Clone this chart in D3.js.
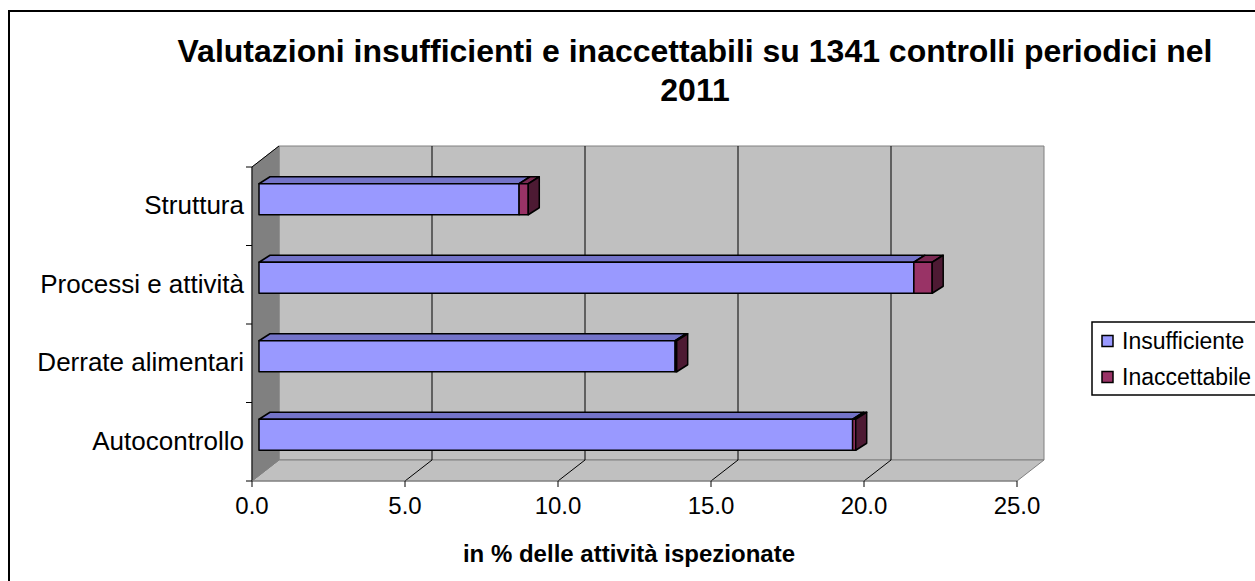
<!DOCTYPE html>
<html>
<head>
<meta charset="utf-8">
<script src="https://cdn.jsdelivr.net/npm/d3@7"></script>
<style>
  html, body { margin: 0; padding: 0; background: #fff; }
  svg { display: block; }
  text { font-family: "Liberation Sans", Arial, sans-serif; }
</style>
</head>
<body>
<svg id="chart" width="1255" height="581"></svg>
<script>
// Categories, top to bottom as drawn
const categories = ["Struttura", "Processi e attività", "Derrate alimentari", "Autocontrollo"];
// Share of inspected activities (%)
const insufficiente = [8.5, 21.4, 13.6, 19.4];
const inaccettabile = [0.3, 0.6, 0.05, 0.1];
const seriesNames = ["Insufficiente", "Inaccettabile"];
const xTicks = [0, 5, 10, 15, 20, 25];

const W = 1255, H = 581;
const svg = d3.select("#chart");

// Colours of each series: front, top and side faces
const faces = [
  { front: "#9999ff", top: "#7373c8", side: "#4d4d80" },
  { front: "#993366", top: "#7a2952", side: "#4d1a33" }
];

// Front plane of the 3D box, and the depth offset of the back wall
const x = d3.scaleLinear().domain([0, 25]).range([252, 1017]);
const y = d3.scaleBand().domain(categories).range([167, 481]).padding(0);
const depth = { dx: 27, dy: -21 };
// Bars: front face offset from the front plane, and bar thickness in depth
const barFront = { dx: 7, dy: -7 };
const barDepth = { dx: 11, dy: -7 };
const barH = 31;

// Outer chart frame
svg.append("rect").attr("x", 0).attr("y", 0).attr("width", W).attr("height", H).attr("fill", "#fff");
svg.append("rect").attr("x", 9).attr("y", 11).attr("width", W + 20).attr("height", H + 20)
  .attr("fill", "none").attr("stroke", "#000").attr("stroke-width", 2);

// Title
const title = svg.append("text").attr("text-anchor", "middle")
  .attr("font-size", 32).attr("font-weight", "bold").attr("fill", "#000");
title.append("tspan").attr("x", 695).attr("y", 62)
  .text("Valutazioni insufficienti e inaccettabili su 1341 controlli periodici nel");
title.append("tspan").attr("x", 695).attr("y", 101).text("2011");

const x0 = x.range()[0], x1 = x.range()[1];
const yTop = y.range()[0], yBot = y.range()[1];
const pts = a => a.map(p => p.join(",")).join(" ");

// Walls and floor
const plot = svg.append("g");
plot.append("polygon")
  .attr("points", pts([[x0 + depth.dx, yTop + depth.dy], [x1 + depth.dx, yTop + depth.dy],
                       [x1 + depth.dx, yBot + depth.dy], [x0 + depth.dx, yBot + depth.dy]]))
  .attr("fill", "#c0c0c0").attr("stroke", "#808080").attr("stroke-width", 1);
plot.append("polygon")
  .attr("points", pts([[x0, yBot], [x0 + depth.dx, yBot + depth.dy],
                       [x1 + depth.dx, yBot + depth.dy], [x1, yBot]]))
  .attr("fill", "#c0c0c0").attr("stroke", "#808080").attr("stroke-width", 1);
plot.append("polygon")
  .attr("points", pts([[x0, yTop], [x0 + depth.dx, yTop + depth.dy],
                       [x0 + depth.dx, yBot + depth.dy], [x0, yBot]]))
  .attr("fill", "#808080").attr("stroke", "#808080").attr("stroke-width", 1);
plot.append("line")
  .attr("x1", x0).attr("y1", yTop).attr("x2", x0 + depth.dx).attr("y2", yTop + depth.dy)
  .attr("stroke", "#000").attr("stroke-width", 1);

// Gridlines on the back wall and their traces across the floor
const inner = xTicks.filter(t => t > 0 && t < 25);
plot.selectAll(".grid").data(inner).join("line")
  .attr("x1", d => x(d) + depth.dx).attr("x2", d => x(d) + depth.dx)
  .attr("y1", yTop + depth.dy).attr("y2", yBot + depth.dy)
  .attr("stroke", "#000").attr("stroke-width", 1);
plot.selectAll(".floorGrid").data(inner).join("line")
  .attr("x1", d => x(d) + depth.dx).attr("y1", yBot + depth.dy)
  .attr("x2", d => x(d)).attr("y2", yBot)
  .attr("stroke", "#000").attr("stroke-width", 1);

// Axes on the front plane
const axes = svg.append("g").attr("stroke", "#000").attr("stroke-width", 1);
axes.append("line").attr("x1", x0).attr("x2", x0).attr("y1", yTop).attr("y2", yBot);
axes.append("line").attr("x1", x0).attr("x2", x1).attr("y1", yBot).attr("y2", yBot).attr("stroke", "#808080");
axes.selectAll(".xt").data(xTicks).join("line")
  .attr("x1", d => x(d)).attr("x2", d => x(d)).attr("y1", yBot).attr("y2", yBot + 6).attr("stroke", "#000");
const bounds = categories.map(c => y(c)).concat([yBot]);
axes.selectAll(".yt").data(bounds).join("line")
  .attr("x1", x0 - 6).attr("x2", x0).attr("y1", d => d).attr("y2", d => d);

svg.selectAll(".xl").data(xTicks).join("text")
  .attr("x", d => x(d)).attr("y", 514).attr("text-anchor", "middle")
  .attr("font-size", 24).attr("fill", "#000").text(d => d.toFixed(1));
svg.selectAll(".yl").data(categories).join("text")
  .attr("x", 244).attr("y", d => y(d) + y.bandwidth() / 2 + 8).attr("text-anchor", "end")
  .attr("font-size", 26).attr("fill", "#000").text(d => d);

svg.append("text").attr("x", 629).attr("y", 562).attr("text-anchor", "middle")
  .attr("font-size", 24).attr("font-weight", "bold").attr("fill", "#000")
  .text("in % delle attività ispezionate");

// Stacked 3D bars
const bx = v => x(v) - x0;   // horizontal length of a value
const bars = svg.append("g").attr("stroke", "#000").attr("stroke-width", 1.5).attr("stroke-linejoin", "round");
categories.forEach((c, i) => {
  const yc = y(c) + y.bandwidth() / 2 + barFront.dy;
  const yT = yc - barH / 2, yB = yc + barH / 2;
  const segs = [[0, insufficiente[i]], [insufficiente[i], insufficiente[i] + inaccettabile[i]]];
  segs.forEach(([a, b], s) => {
    const L = x0 + barFront.dx + bx(a), R = x0 + barFront.dx + bx(b);
    const f = faces[s];
    bars.append("polygon")
      .attr("points", pts([[L, yT], [L + barDepth.dx, yT + barDepth.dy], [R + barDepth.dx, yT + barDepth.dy], [R, yT]]))
      .attr("fill", f.top);
    bars.append("rect").attr("x", L).attr("y", yT).attr("width", R - L).attr("height", barH)
      .attr("fill", f.front);
  });
  const end = x0 + barFront.dx + bx(insufficiente[i] + inaccettabile[i]);
  const last = faces[inaccettabile[i] > 0 ? 1 : 0];
  bars.append("polygon")
    .attr("points", pts([[end, yT], [end + barDepth.dx, yT + barDepth.dy], [end + barDepth.dx, yB + barDepth.dy], [end, yB]]))
    .attr("fill", last.side);
});

// Legend
const lg = svg.append("g");
lg.append("rect").attr("x", 1092).attr("y", 322).attr("width", 200).attr("height", 73)
  .attr("fill", "#fff").attr("stroke", "#000").attr("stroke-width", 1.5);
seriesNames.forEach((n, i) => {
  const cy = 341 + i * 36;
  lg.append("rect").attr("x", 1102).attr("y", cy - 5.5).attr("width", 11).attr("height", 11)
    .attr("fill", faces[i].front).attr("stroke", "#000").attr("stroke-width", 1.5);
  lg.append("text").attr("x", 1122).attr("y", cy + 8).attr("font-size", 23).attr("fill", "#000").text(n);
});
</script>
</body>
</html>
